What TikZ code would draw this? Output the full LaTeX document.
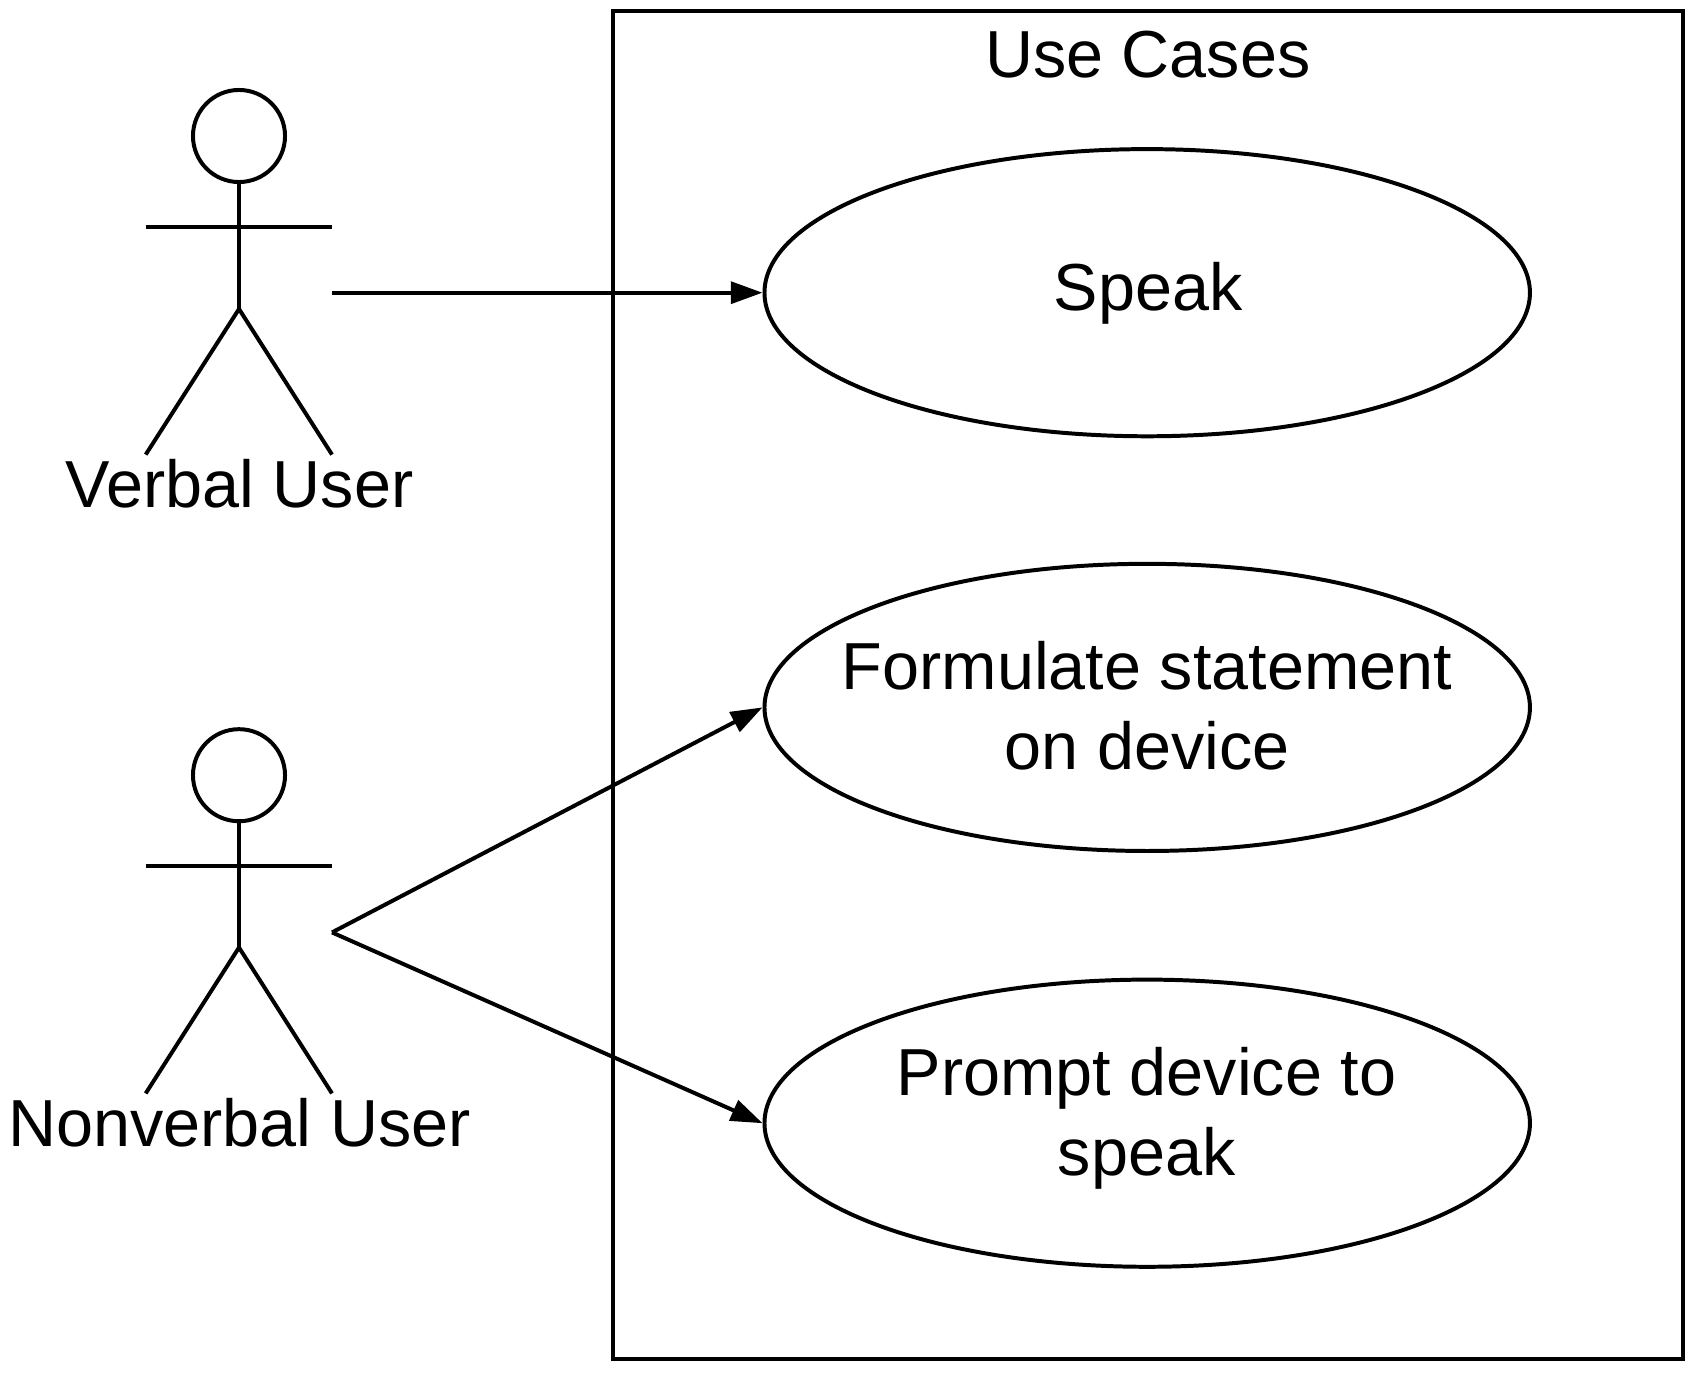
\documentclass[tikz,border=0pt]{standalone}
\usepackage{fontspec}
\setmainfont{Liberation Sans}
\usepackage{tikz}
\usetikzlibrary{arrows.meta,shapes}
\tikzset{
	UML/.style={line width=1.13pt},
	UseCase/.style={UML,draw,ellipse,inner sep=0pt,minimum width=7.65cm,minimum height=2.87cm},
	Label/.style={inner sep=0pt,align=center},
	Assoc/.style={UML,-{Triangle[length=9pt,width=6.2pt]}}
}
\begin{document}
\begin{tikzpicture}[x=0.01cm,y=-0.01cm,font=\fontsize{18.92}{22.6}\selectfont]
		\useasboundingbox (0,0) rectangle (1700,1379);
		\node[UML,draw,minimum width=10.70cm,minimum height=13.47cm,inner sep=0pt] (System) at (1148,685) {};
		\node[Label] (SystemName) at (1147.7,54.2) {Use Cases};
		\node[UseCase] (Speak) at (1147.2,292.7) {};
		\node[Label] (SpeakName) at (1148,293.2) {Speak};
		\node[UseCase] (Formulate) at (1147.2,707.4) {};
		\node[Label] (FormulateName) at (1147,705.7) {Formulate statement\\on device};
		\node[UseCase] (Prompt) at (1147.2,1123.2) {};
		\node[Label] (PromptName) at (1146.6,1118.4) {Prompt device to\\speak};
		\node[UML,draw,circle,inner sep=0pt,minimum size=0.92cm] (VerbalHead) at (239,136) {};
		\coordinate (VerbalHip) at (239,309);
		\coordinate (VerbalHand) at (332,292.7);
		\node[Label] (VerbalName) at (239.5,483.8) {Verbal User};
		\draw[UML] (VerbalHead) -- (VerbalHip);
		\draw[UML] (145.7,227) -- (332,227);
		\draw[UML] (145.7,454.6) -- (VerbalHip) -- (332,454.6);
		\node[UML,draw,circle,inner sep=0pt,minimum size=0.92cm] (NonverbalHead) at (239,775.2) {};
		\coordinate (NonverbalHip) at (239,947.5);
		\coordinate (NonverbalHand) at (332,932.4);
		\node[Label] (NonverbalName) at (239.5,1122.6) {Nonverbal User};
		\draw[UML] (NonverbalHead) -- (NonverbalHip);
		\draw[UML] (145.7,866.2) -- (332,866.2);
		\draw[UML] (145.7,1093.4) -- (NonverbalHip) -- (332,1093.4);
		\draw[Assoc] (VerbalHand) -- (Speak.west);
		\draw[Assoc] (NonverbalHand) -- (Formulate.west);
		\draw[Assoc] (NonverbalHand) -- (Prompt.west);
	\end{tikzpicture}
\end{document}
